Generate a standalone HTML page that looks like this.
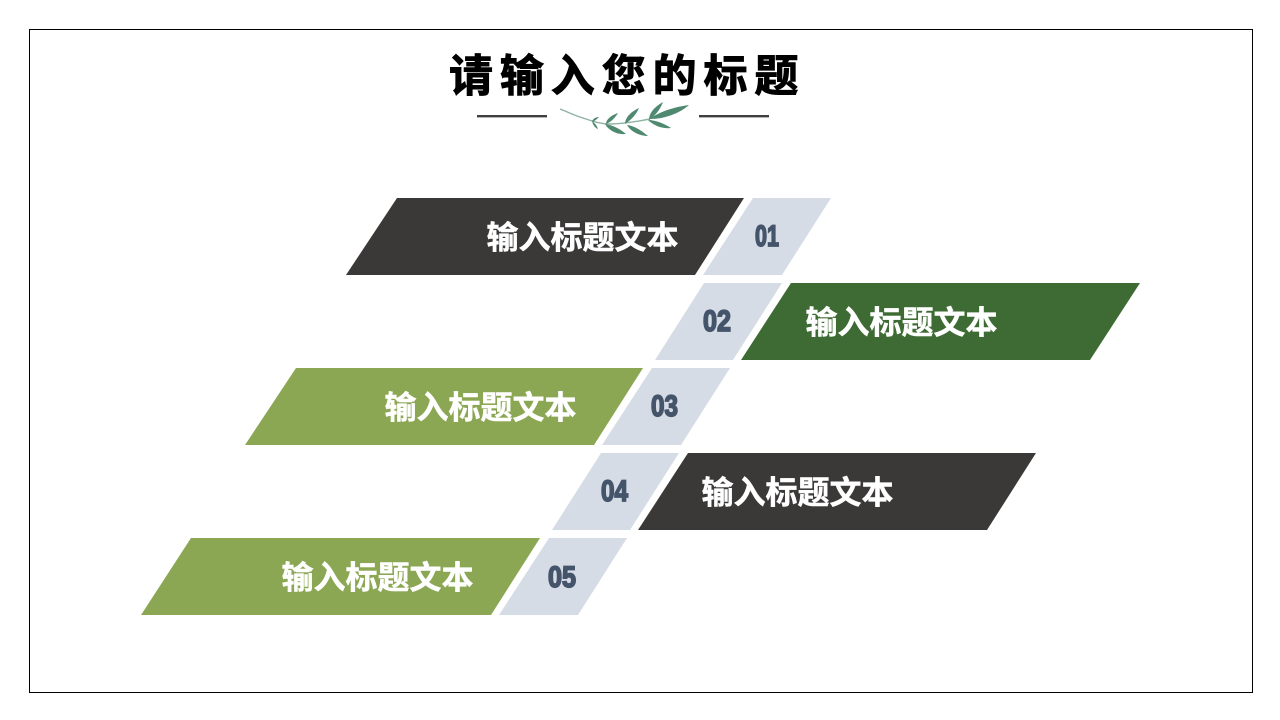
<!DOCTYPE html>
<html lang="zh">
<head>
<meta charset="utf-8">
<style>
html,body{margin:0;padding:0;background:#fff;width:1280px;height:720px;overflow:hidden}
svg{display:block}
.t{font-family:"Liberation Sans","Noto Sans CJK SC",sans-serif;font-weight:700}
.l{font-size:32px;fill:#fff;stroke:#fff;stroke-width:.5px}
.n{font-family:"Liberation Sans",sans-serif;font-weight:700;font-size:30px;fill:#44546a;stroke:#44546a;stroke-width:1.7px}
</style>
</head>
<body>
<svg width="1280" height="720" viewBox="0 0 1280 720" xmlns="http://www.w3.org/2000/svg">
<rect x="29.5" y="29.5" width="1223" height="663" fill="#fff" stroke="#000" stroke-width="1"/>
<text class="t" x="449" y="91" font-size="44" letter-spacing="6.9" fill="#000" stroke="#000" stroke-width="1">请输入您的标题</text>
<rect x="477" y="115" width="70" height="2.4" fill="#404040"/>
<rect x="699" y="115" width="70" height="2.4" fill="#404040"/>
<path d="M560 109C570 113 576 116 583 118C592 121 600 124 610 124C625 124 638 121 650 119" fill="none" stroke="#8fb3a2" stroke-width="1.4"/>
<g fill="#4f8a70">
<path d="M650 119C660 111 675 107 689 105C680 113 665 119 650 119Z"/>
<path d="M663 102C660 110 655 116 649 120C649 112 656 106 663 102Z"/>
<path d="M639 108C636 115 631 120 625 124C625 117 632 111 639 108Z"/>
<path d="M618 113C615 118 611 122 606 124C606 119 612 115 618 113Z"/>
<path d="M599 117C597 119 595 121 592 122C592 119 596 117 599 117Z"/>
<path d="M648 120C656 120 665 124 671 128C663 129 654 126 648 120Z"/>
<path d="M627 125C635 126 642 131 648 136C640 136 631 132 627 125Z"/>
<path d="M605 124C613 125 620 129 626 134C618 135 609 131 605 124Z"/>
<path d="M592 121C595 123 597 126 598 129C595 128 593 125 592 121Z"/>
</g>
<polygon points="397,198 744,198 695,275 346,275" fill="#3b3838"/>
<polygon points="753,198 831,198 782,275 703,275" fill="#d6dce5"/>
<polygon points="704,283 782,283 733,360 655,360" fill="#d6dce5"/>
<polygon points="791,283 1140,283 1090,360 741,360" fill="#3e6b33"/>
<polygon points="296,368 643,368 594,445 245,445" fill="#8ba753"/>
<polygon points="652,368 730,368 681,445 602,445" fill="#d6dce5"/>
<polygon points="601,453 679,453 630,530 552,530" fill="#d6dce5"/>
<polygon points="688,453 1036,453 987,530 638,530" fill="#3b3838"/>
<polygon points="191,538 540,538 491,615 141,615" fill="#8ba753"/>
<polygon points="549,538 627,538 578,615 499,615" fill="#d6dce5"/>
<text class="t l" x="486.5" y="248.5">输入标题文本</text>
<text class="t l" x="805.5" y="333.5">输入标题文本</text>
<text class="t l" x="384.5" y="418.5">输入标题文本</text>
<text class="t l" x="701.5" y="503.5">输入标题文本</text>
<text class="t l" x="281.5" y="588.5">输入标题文本</text>
<text class="n" textLength="24" lengthAdjust="spacingAndGlyphs" x="755" y="246">01</text>
<text class="n" textLength="28" lengthAdjust="spacingAndGlyphs" x="703" y="331">02</text>
<text class="n" textLength="27" lengthAdjust="spacingAndGlyphs" x="651" y="416">03</text>
<text class="n" textLength="27" lengthAdjust="spacingAndGlyphs" x="601" y="501">04</text>
<text class="n" textLength="28" lengthAdjust="spacingAndGlyphs" x="548" y="587">05</text>
</svg>
</body>
</html>
